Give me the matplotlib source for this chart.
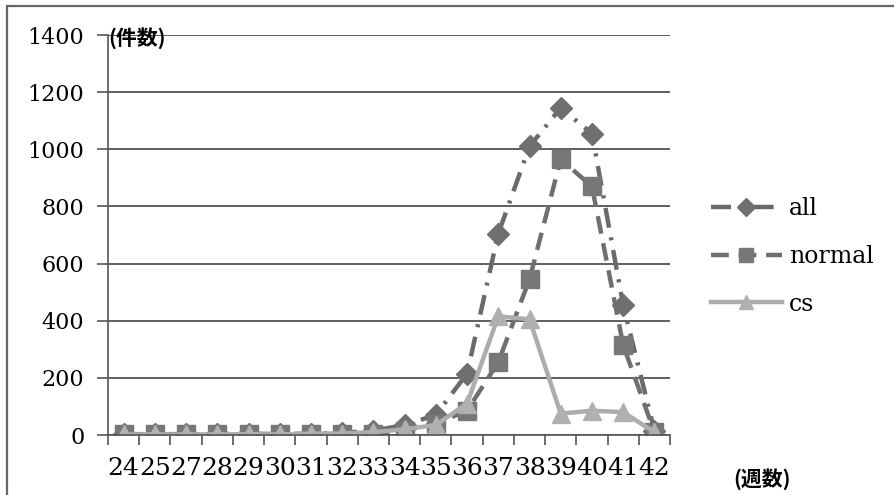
import matplotlib
matplotlib.use("Agg")
import matplotlib.pyplot as plt
from matplotlib.patches import Rectangle
from matplotlib.ticker import FixedLocator, NullFormatter
import numpy as np

weeks = ["24", "25", "27", "28", "29", "30", "31", "32", "33",
         "34", "35", "36", "37", "38", "39", "40", "41", "42"]
all_cnt = [3, 3, 3, 3, 5, 3, 5, 8, 15, 35, 70, 215, 705, 1010,
           1145, 1055, 455, 15]
normal_cnt = [2, 2, 2, 2, 2, 2, 2, 2, 5, 15, 40, 85, 255, 545,
              965, 870, 315, 10]
cs_cnt = [2, 2, 2, 2, 3, 2, 5, 5, 10, 20, 35, 110, 415, 405,
          75, 85, 80, 10]

SERIF = ["DejaVu Serif"]
CJK = ["Noto Sans CJK JP", "DejaVu Sans"]

W, H = 894, 495
fig = plt.figure(figsize=(W / 100, H / 100), dpi=100)
ax = fig.add_axes([108 / W, 1 - 435 / H, (670 - 108) / W, (435 - 35) / H])

x = np.arange(len(weeks))
ax.plot(x, all_cnt, color="#6a6a6a", lw=3.2, ls=(0, (4.5, 2.2, 0.7, 2.2)),
        marker="D", ms=11, mfc="#6f6f6f", mec="#6f6f6f", label="all")
ax.plot(x, normal_cnt, color="#6f6f6f", lw=3.2, ls=(0, (4, 2.2)),
        marker="s", ms=12.5, mfc="#777777", mec="#777777", label="normal")
ax.plot(x, cs_cnt, color="#adadad", lw=3.2, ls="-",
        marker="^", ms=13, mfc="#b0b0b0", mec="#b0b0b0", label="cs")

ax.set_xlim(-0.5, len(weeks) - 0.5)
ax.set_ylim(0, 1400)
ax.set_yticks(np.arange(0, 1401, 200))
ax.set_xticks(x)
ax.set_xticklabels(weeks, family=SERIF, fontsize=18)
ax.xaxis.set_minor_locator(FixedLocator(np.arange(-0.5, len(weeks), 1)))
ax.xaxis.set_minor_formatter(NullFormatter())
ax.tick_params(axis="x", which="major", length=0, pad=16)
ax.tick_params(axis="x", which="minor", length=7, width=1.2,
               color="#555555", direction="out")
ax.tick_params(axis="y", length=8, width=1.2, color="#555555", pad=9,
               labelsize=16)
for t in ax.get_yticklabels():
    t.set_family(SERIF)
ax.yaxis.grid(True, color="#444444", lw=1.2)
ax.set_axisbelow(True)
for s in ("top", "right"):
    ax.spines[s].set_visible(False)
for s in ("left", "bottom"):
    ax.spines[s].set_color("#555555")
    ax.spines[s].set_linewidth(1.2)

fig.text(108 / W, 1 - 38 / H, "(件数)", family=CJK, fontsize=15,
         weight="bold", va="center", ha="left")
fig.text(733 / W, 1 - 479 / H, "(週数)", family=CJK, fontsize=15,
         weight="bold", va="center", ha="left")

leg = ax.legend(loc="upper left", bbox_to_anchor=(711 / W, 1 - 197 / H),
                bbox_transform=fig.transFigure, frameon=False,
                prop={"family": SERIF, "size": 17}, handlelength=3.0,
                labelspacing=1.05, handletextpad=0.3, borderpad=0,
                borderaxespad=0, markerscale=0.8)

fig.patches.append(Rectangle((7 / W, -0.1), 1.2, 1.1 - 6 / H,
                             transform=fig.transFigure, fill=False,
                             ec="#666666", lw=1.6))

fig.savefig("out.png", dpi=100)
